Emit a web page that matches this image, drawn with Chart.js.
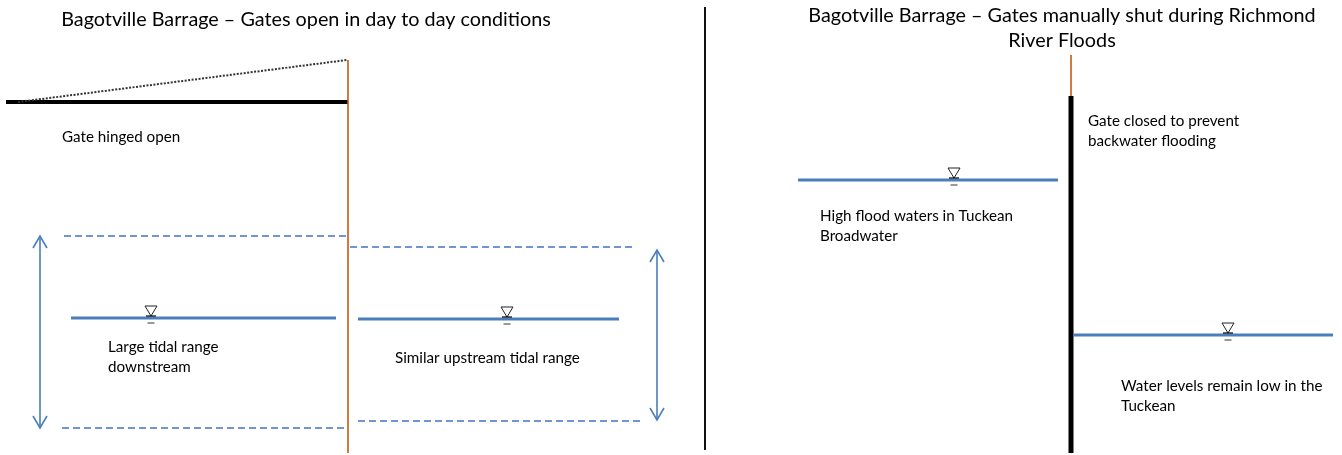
<!DOCTYPE html>
<html>
<head>
<meta charset="utf-8">
<script src="https://cdn.jsdelivr.net/npm/chart.js@4.4.0/dist/chart.umd.min.js"></script>
<style>
  html, body { margin: 0; padding: 0; background: #fff; }
  #wrap { width: 1342px; height: 455px; }
</style>
</head>
<body>
<div id="wrap"><canvas id="diagram" width="1342" height="455"></canvas></div>
<script>
// diagram geometry in page pixels: [x1, y1, x2, y2]
const waterLevels = [[71, 318, 336, 318], [358, 319, 619, 319], [798, 180, 1058, 180], [1073, 335, 1333, 335]];
const tideLimits = [[64, 236, 348, 236], [62, 428, 348, 428], [350, 247, 634, 247], [358, 421, 640, 421]];
const gatePosts = [[348, 60, 348, 453], [1071, 55, 1071, 96]];
const gateLeaves = [[6, 102, 348, 102], [1071, 96, 1071, 453]];
const gateSwing = [[18, 102, 347, 60]];
const divider = [[705, 7, 705, 450]];
// double arrows: [x, yTop, yBottom]
const tideArrows = [[40, 236, 428], [657, 250, 420]];
// water surface symbols: [x, y]
const surfaceMarks = [[151, 318], [507, 319], [954, 180], [1228, 335]];
const titles = [
  ["Bagotville Barrage \u2013 Gates open in day to day conditions", 306, 20],
  ["Bagotville Barrage \u2013 Gates manually shut during Richmond", 1062, 16],
  ["River Floods", 1062, 41]
];
const notes = [
  ["Gate hinged open", 62, 137],
  ["Large tidal range", 108, 347],
  ["downstream", 108, 367],
  ["Similar upstream tidal range", 395, 358],
  ["Gate closed to prevent", 1088, 121],
  ["backwater flooding", 1088, 141],
  ["High flood waters in Tuckean", 820, 216],
  ["Broadwater", 820, 236],
  ["Water levels remain low in the", 1121, 386],
  ["Tuckean", 1121, 406]
];

const BLUE = "#4a7ebb";
const BROWN = "#c55a11";

function seg(s, color, width, dash) {
  return {
    data: [{ x: s[0], y: s[1] }, { x: s[2], y: s[3] }],
    showLine: true, borderColor: color, borderWidth: width,
    borderDash: dash || [], pointRadius: 0, borderCapStyle: "butt"
  };
}

const datasets = [];
divider.forEach(s => datasets.push(seg(s, "#111", 2)));
tideLimits.forEach(s => datasets.push(seg(s, "#4472c4", 1.3, [7, 4])));
waterLevels.forEach(s => datasets.push(seg(s, BLUE, 3)));
gatePosts.forEach(s => datasets.push(seg(s, BROWN, 1.6)));
gateSwing.forEach(s => datasets.push(seg(s, "#333", 2, [2, 1.5])));
gateLeaves.forEach(s => datasets.push(seg(s, "#000", s[0] === s[2] ? 5 : 4)));
tideArrows.forEach(a => datasets.push(seg([a[0], a[1], a[0], a[2]], BLUE, 1.6)));

const overlay = {
  id: "overlay",
  afterDatasetsDraw(chart) {
    const c = chart.ctx, xs = chart.scales.x, ys = chart.scales.y;
    c.save();
    // arrow heads
    c.strokeStyle = BLUE; c.lineWidth = 1.6;
    tideArrows.forEach(a => {
      const x = xs.getPixelForValue(a[0]);
      const t = ys.getPixelForValue(a[1]), b = ys.getPixelForValue(a[2]);
      c.beginPath();
      c.moveTo(x - 7, t + 12); c.lineTo(x, t); c.lineTo(x + 7, t + 12);
      c.moveTo(x - 7, b - 12); c.lineTo(x, b); c.lineTo(x + 7, b - 12);
      c.stroke();
    });
    // water surface symbol
    surfaceMarks.forEach(m => {
      const x = xs.getPixelForValue(m[0]), y = ys.getPixelForValue(m[1]);
      c.strokeStyle = "#222"; c.lineWidth = 1;
      c.beginPath();
      c.moveTo(x - 6, y - 12); c.lineTo(x + 6, y - 12); c.lineTo(x, y - 2); c.closePath();
      c.stroke();
      c.strokeStyle = "#000"; c.lineWidth = 1.2;
      c.beginPath(); c.moveTo(x - 5, y - 2); c.lineTo(x + 5, y - 2); c.stroke();
      c.strokeStyle = "#777"; c.lineWidth = 1.5;
      c.beginPath(); c.moveTo(x - 3.5, y + 5); c.lineTo(x + 3.5, y + 5); c.stroke();
    });
    // text
    c.fillStyle = "#000"; c.textBaseline = "middle";
    c.font = "19.8px Lato";
    c.textAlign = "center";
    titles.forEach(t => c.fillText(t[0], xs.getPixelForValue(t[1]), ys.getPixelForValue(t[2])));
    c.font = "15.2px Lato";
    c.textAlign = "left";
    notes.forEach(t => c.fillText(t[0], xs.getPixelForValue(t[1]), ys.getPixelForValue(t[2])));
    c.restore();
  }
};

new Chart(document.getElementById("diagram"), {
  type: "scatter",
  data: { datasets: datasets },
  options: {
    responsive: false, animation: false, events: [],
    layout: { padding: 0 },
    plugins: { legend: { display: false }, tooltip: { enabled: false } },
    scales: {
      x: { type: "linear", min: 0, max: 1342, display: false },
      y: { type: "linear", min: 0, max: 455, reverse: true, display: false }
    }
  },
  plugins: [overlay]
});
</script>
</body>
</html>
